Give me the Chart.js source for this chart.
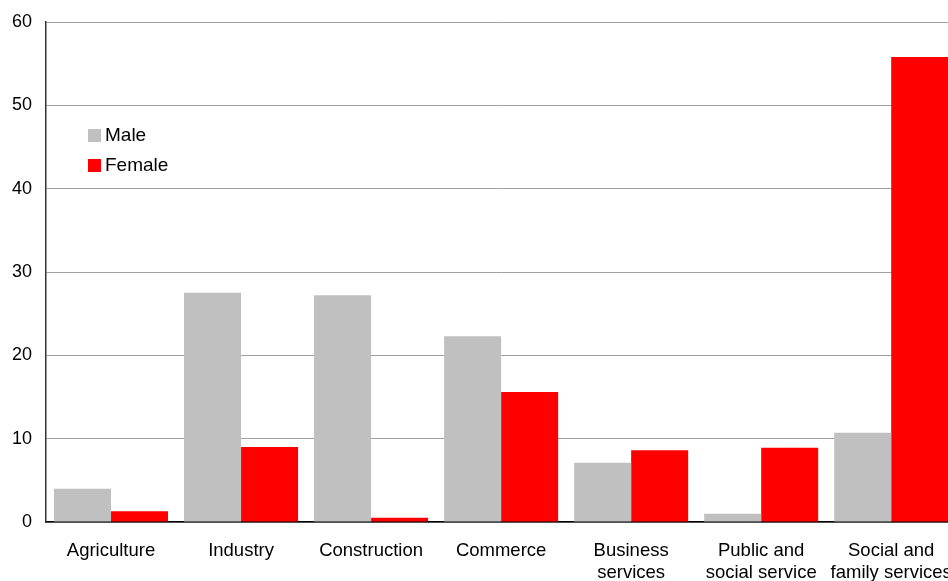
<!DOCTYPE html>
<html>
<head>
<meta charset="utf-8">
<script src="https://cdn.jsdelivr.net/npm/chart.js@4.4.0/dist/chart.umd.min.js"></script>
<style>
    html, body { margin: 0; padding: 0; background: #fff; overflow: hidden; }
    #wrap { width: 962px; height: 581px; }
</style>
</head>
<body>
<div id="wrap"><canvas id="sector-bar"></canvas></div>
<script>
// Employment by sector and sex (%)
let labels = [['Agriculture'], ['Industry'], ['Construction'], ['Commerce'],
    ['Business', 'services'], ['Public and', 'social service'], ['Social and', 'family services']];
let maleValues = [4.0, 27.5, 27.2, 22.3, 7.1, 1.0, 10.7];
let femaleValues = [1.3, 9.0, 0.5, 15.6, 8.6, 8.9, 55.8];
let colorHex = ['#C0C0C0', '#FF0000'];

// legend drawn inside the plot, top left
const innerLegend = {
    id: 'innerLegend',
    afterDraw: function (chart) {
        let c = chart.ctx;
        c.save();
        c.font = '19px "Liberation Sans", Arial, sans-serif';
        c.textBaseline = 'middle';
        chart.data.datasets.forEach(function (ds, i) {
            let y = 129 + i * 30;
            c.fillStyle = ds.backgroundColor;
            c.fillRect(88, y, 13, 13);
            c.fillStyle = '#000';
            c.fillText(ds.label, 105, y + 7);
        });
        c.restore();
    }
};

let ctx = document.getElementById('sector-bar').getContext('2d');
let myChart = new Chart(ctx, {
    type: 'bar',
    data: {
        labels: labels,
        datasets: [{
            label: 'Male',
            data: maleValues,
            backgroundColor: colorHex[0]
        }, {
            label: 'Female',
            data: femaleValues,
            backgroundColor: colorHex[1]
        }]
    },
    plugins: [innerLegend],
    options: {
        responsive: true,
        maintainAspectRatio: false,
        animation: false,
        layout: {
            padding: { top: 22, right: 2, left: 0, bottom: 0 }
        },
        datasets: {
            bar: { barPercentage: 1, categoryPercentage: 0.877 }
        },
        plugins: {
            legend: { display: false },
            tooltip: { enabled: false }
        },
        scales: {
            x: {
                grid: { display: false },
                border: { color: '#000', width: 1.5 },
                ticks: {
                    color: '#000',
                    padding: 10,
                    maxRotation: 0,
                    autoSkip: false,
                    font: { family: '"Liberation Sans", Arial, sans-serif', size: 18.5, lineHeight: 1.2 }
                },
                afterFit: function (scale) { scale.height = 59; }
            },
            y: {
                min: 0,
                max: 60,
                ticks: {
                    stepSize: 10,
                    color: '#000',
                    padding: 14,
                    font: { family: '"Liberation Sans", Arial, sans-serif', size: 18 }
                },
                grid: { color: '#a0a0a0', drawTicks: false },
                border: { color: '#333', width: 1.5 },
                afterFit: function (scale) {
                    scale.width = 46;
                    scale.paddingTop = 0;
                    scale.paddingBottom = 0;
                }
            }
        }
    }
});
</script>
</body>
</html>
